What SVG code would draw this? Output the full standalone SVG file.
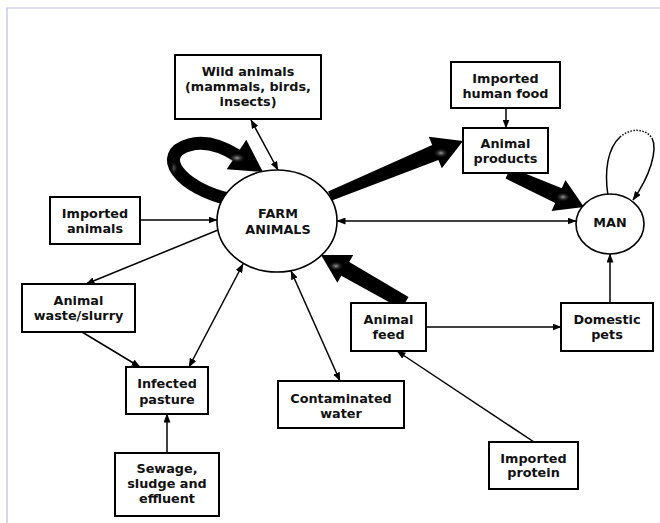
<svg xmlns="http://www.w3.org/2000/svg" width="660" height="523" viewBox="0 0 660 523">
<style>
.box{fill:#fff;stroke:#000;stroke-width:2}
.ell{fill:#fff;stroke:#000;stroke-width:1.6}
.t{font-family:"DejaVu Sans","Liberation Sans",Arial,sans-serif;font-weight:bold;font-size:12.8px;fill:#111;text-anchor:middle}
.c{fill:none;stroke:#000;stroke-width:1.5}
.thick{fill:#000}
.frame{stroke:#bcbce4;stroke-width:1.2;fill:none}
</style>
<defs>
<marker id="ah" markerWidth="9" markerHeight="7" refX="8.5" refY="3.5" orient="auto-start-reverse" markerUnits="userSpaceOnUse">
<path d="M0,0 L9,3.5 L0,7 z" fill="#000"/>
</marker>
<radialGradient id="hl">
<stop offset="0" stop-color="#9a9a9a" stop-opacity="1"/>
<stop offset="1" stop-color="#000" stop-opacity="0"/>
</radialGradient>
</defs>
<rect width="660" height="523" fill="#fff"/>
<path class="frame" d="M7,523 V8 H660"/>
<g id="connectors">
<line class="c" x1="251" y1="120" x2="278" y2="170" marker-start="url(#ah)" marker-end="url(#ah)"/>
<line class="c" x1="140" y1="220" x2="217" y2="220" marker-end="url(#ah)"/>
<line class="c" x1="218" y1="230" x2="86" y2="284" marker-end="url(#ah)"/>
<line class="c" x1="82" y1="332" x2="140" y2="367" marker-end="url(#ah)"/>
<line class="c" x1="243" y1="264" x2="189" y2="367" marker-start="url(#ah)" marker-end="url(#ah)"/>
<line class="c" x1="167" y1="453" x2="167" y2="414" marker-end="url(#ah)"/>
<line class="c" x1="291" y1="271" x2="340" y2="381" marker-start="url(#ah)" marker-end="url(#ah)"/>
<line class="c" x1="426" y1="327" x2="561" y2="327" marker-end="url(#ah)"/>
<line class="c" x1="534" y1="442" x2="397" y2="351" marker-end="url(#ah)"/>
<line class="c" x1="610" y1="303" x2="610" y2="254" marker-end="url(#ah)"/>
<line class="c" x1="337" y1="221" x2="576" y2="221" marker-start="url(#ah)" marker-end="url(#ah)"/>
<line class="c" x1="506" y1="108" x2="506" y2="128" marker-end="url(#ah)"/>
<path class="c" d="M608,196 C604,170 608,148 620,137"/>
<path class="c" d="M620,137 C630,128 645,128 652,138" stroke-dasharray="1.5 1.5"/>
<path class="c" d="M652,138 C658,150 650,176 633,200" marker-end="url(#ah)"/>
<polygon class="thick" points="331.9,200.6 438.4,159.9 441.8,168.2 463,141 428.8,136.8 432.2,145.1 328.1,191.4"/>
<polygon class="thick" points="510.4,167.5 561.8,188.3 565.4,180.1 584,207 551.6,211.1 555.2,202.9 505.6,178.5"/>
<polygon class="thick" points="408.5,296.9 349.3,262.0 353.2,255.0 321,255 337.4,282.8 341.3,275.8 401.5,309.1"/>
<path d="M232,200 C178,188 156,154 189,145 C205,140 222,146 238,156" fill="none" stroke="#000" stroke-width="13"/>
<polygon class="thick" points="263,172 246.3,139.8 226.7,169.2"/>
<ellipse cx="237" cy="158" rx="9" ry="5" fill="url(#hl)"/>
<ellipse cx="174" cy="168" rx="4" ry="8" fill="url(#hl)" opacity="0.6"/>
<ellipse cx="441" cy="153" rx="8" ry="5" fill="url(#hl)"/>
<ellipse cx="563" cy="197" rx="8" ry="5" fill="url(#hl)"/>
<ellipse cx="336" cy="266" rx="8" ry="5" fill="url(#hl)"/>
</g>
<g id="farm"><ellipse class="ell" cx="277" cy="221" rx="60" ry="51"/>
<text class="t" x="278" y="218">FARM</text><text class="t" x="278" y="234">ANIMALS</text></g>
<g id="man"><ellipse class="ell" cx="610" cy="224" rx="34" ry="30"/>
<text class="t" x="610" y="227">MAN</text></g>
<g id="wild"><rect class="box" x="175" y="55" width="146" height="64"/>
<text class="t" x="248" y="76">Wild animals</text><text class="t" x="248" y="91">(mammals, birds,</text><text class="t" x="248" y="106">insects)</text></g>
<g id="humanfood"><rect class="box" x="451" y="62" width="109" height="46"/>
<text class="t" x="505.5" y="83">Imported</text><text class="t" x="505.5" y="98">human food</text></g>
<g id="products"><rect class="box" x="463" y="128" width="85" height="45"/>
<text class="t" x="505.5" y="148">Animal</text><text class="t" x="505.5" y="163">products</text></g>
<g id="impanimals"><rect class="box" x="50" y="197" width="90" height="47"/>
<text class="t" x="95" y="218">Imported</text><text class="t" x="95" y="233">animals</text></g>
<g id="waste"><rect class="box" x="22" y="284" width="113" height="48"/>
<text class="t" x="78.5" y="305">Animal</text><text class="t" x="78.5" y="320">waste/slurry</text></g>
<g id="pasture"><rect class="box" x="126" y="367" width="82" height="47"/>
<text class="t" x="167" y="388">Infected</text><text class="t" x="167" y="404">pasture</text></g>
<g id="sewage"><rect class="box" x="115" y="453" width="104" height="63"/>
<text class="t" x="167" y="473">Sewage,</text><text class="t" x="167" y="488">sludge and</text><text class="t" x="167" y="503">effluent</text></g>
<g id="water"><rect class="box" x="278" y="381" width="126" height="47"/>
<text class="t" x="341" y="403">Contaminated</text><text class="t" x="341" y="418">water</text></g>
<g id="feed"><rect class="box" x="351" y="303" width="75" height="48"/>
<text class="t" x="388.5" y="324">Animal</text><text class="t" x="388.5" y="339">feed</text></g>
<g id="pets"><rect class="box" x="561" y="303" width="92" height="48"/>
<text class="t" x="607" y="324">Domestic</text><text class="t" x="607" y="339">pets</text></g>
<g id="protein"><rect class="box" x="489" y="442" width="89" height="47"/>
<text class="t" x="533.5" y="463">Imported</text><text class="t" x="533.5" y="477">protein</text></g>
</svg>
